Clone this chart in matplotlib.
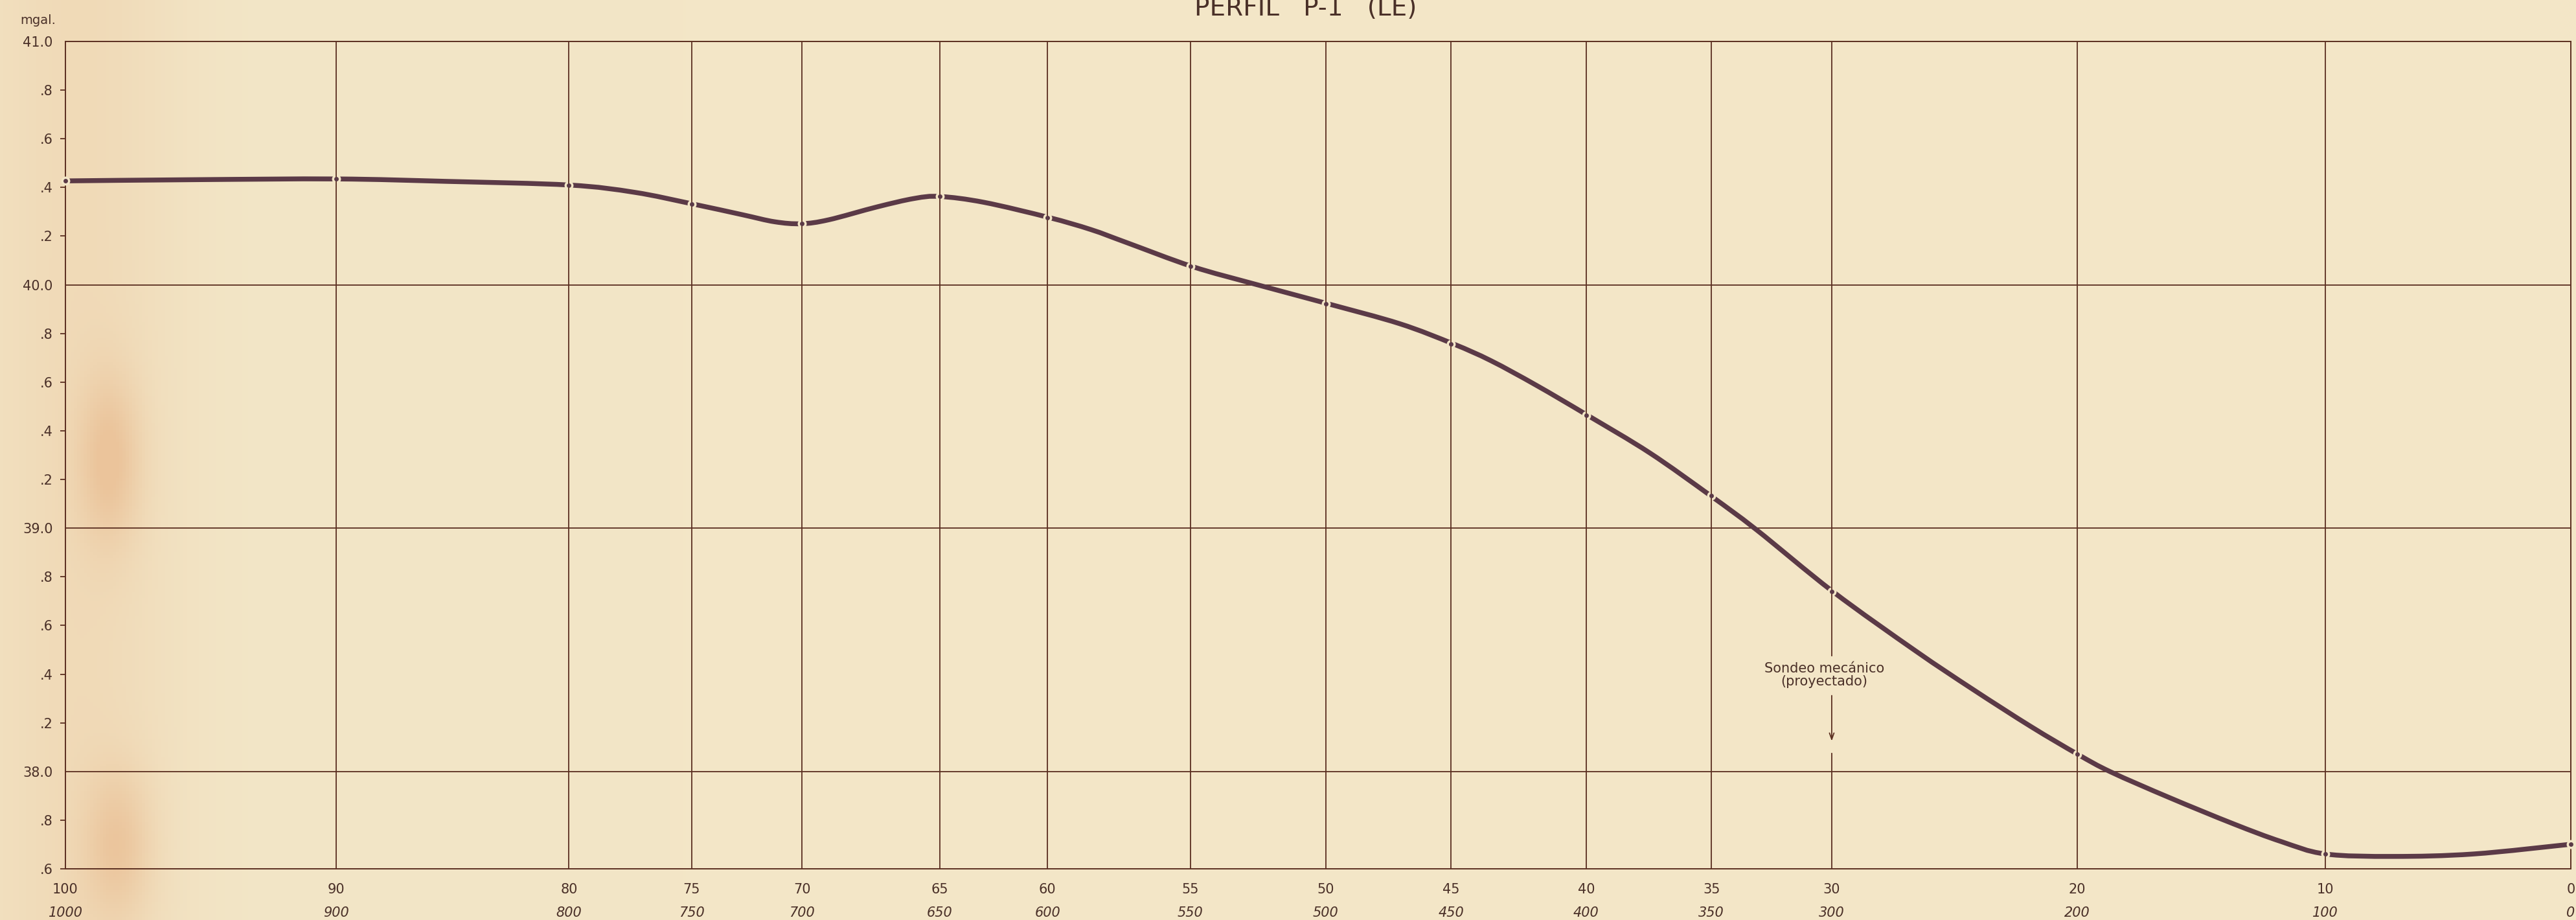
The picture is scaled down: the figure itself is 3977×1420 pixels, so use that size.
"""Perfil gravimétrico P-1 (LE): anomalía en mgal a lo largo de la línea de estaciones."""

import matplotlib

matplotlib.use("Agg")
import matplotlib.pyplot as plt
import numpy as np
from matplotlib.colors import to_rgb
from matplotlib.patches import PathPatch
from matplotlib.path import Path


PAPER_COLOR = "#f3e6c7"
STAIN_COLOR = "#ebc49b"
GRID_COLOR = "#5a2e20"
TEXT_COLOR = "#4a3028"
CURVE_COLOR = "#5b3a47"

# estaciones: número, distancia rotulada y posición dibujada sobre el perfil (m)
STATION_LABELS = ["100", "90", "80", "75", "70", "65", "60", "55", "50",
                  "45", "40", "35", "30", "20", "10", "0"]
DISTANCE_LABELS = ["1000", "900", "800", "750", "700", "650", "600", "550", "500",
                   "450", "400", "350", "300", "200", "100", "0"]
STATION_POSITIONS = [1000, 892, 799, 750, 706, 651, 608, 551, 497,
                     447, 393, 343, 295, 197, 98, 0]
STATION_GRAVITY = [40.427, 40.435, 40.410, 40.333, 40.251, 40.363, 40.277, 40.075,
                   39.923, 39.757, 39.464, 39.133, 38.739, 38.070, 37.661, 37.701]

# puntos leídos sobre la curva dibujada
CURVE_POSITIONS = [1000, 948.6, 891.7, 847.7, 798.9, 772.8, 750.0, 729.8, 716.9,
                   706.3, 695.4, 676.1, 661.1, 651.0, 633.4, 607.6, 590.7, 576.3,
                   550.2, 525.3, 496.4, 467.4, 446.0, 431.0, 412.9, 392.5, 367.6,
                   343.3, 325.0, 294.5, 261.6, 238.6, 215.4, 196.7, 183.6, 160.3,
                   134.7, 115.6, 98.0, 70.8, 38.8, 0.0]
CURVE_GRAVITY = [40.427, 40.432, 40.435, 40.425, 40.410, 40.380, 40.333, 40.288, 40.259,
                 40.251, 40.267, 40.320, 40.355, 40.363, 40.339, 40.277, 40.227, 40.173,
                 40.075, 40.003, 39.923, 39.840, 39.757, 39.688, 39.587, 39.464, 39.309,
                 39.133, 38.993, 38.739, 38.496, 38.337, 38.184, 38.070, 37.998, 37.893,
                 37.785, 37.712, 37.661, 37.651, 37.661, 37.701]

MAJOR_GRAVITY = [41.0, 40.0, 39.0, 38.0]
MAJOR_LABELS = ["41.0", "40.0", "39.0", "38.0"]
MINOR_GRAVITY = [40.8, 40.6, 40.4, 40.2, 39.8, 39.6, 39.4, 39.2,
                 38.8, 38.6, 38.4, 38.2, 37.8, 37.6]
MINOR_LABELS = [".8", ".6", ".4", ".2", ".8", ".6", ".4", ".2",
                ".8", ".6", ".4", ".2", ".8", ".6"]

BOREHOLE_POSITION = 295
BOREHOLE_TEXT = "Sondeo mecánico\n(proyectado)"

FIG_W, FIG_H = 3977, 1420


def smooth_curve_path(x_values, y_values):
    """Trazo con curvas de Bézier que pasa por los puntos leídos (como una plantilla de curvas)."""
    points = np.column_stack([x_values, y_values]).astype(float)
    padded = np.vstack([points[0], points, points[-1]])
    vertices = [points[0]]
    codes = [Path.MOVETO]
    for index in range(1, len(padded) - 2):
        previous_point, start, end, following = padded[index - 1:index + 3]
        vertices += [start + (end - previous_point) / 6.0,
                     end - (following - start) / 6.0,
                     end]
        codes += [Path.CURVE4] * 3
    return Path(vertices, codes)


plt.rcParams["font.family"] = ["DejaVu Sans"]

figure = plt.figure(figsize=(FIG_W / 100, FIG_H / 100), dpi=100)
figure.patch.set_facecolor(PAPER_COLOR)

# papel crema con manchas anaranjadas junto al margen izquierdo
paper = figure.add_axes([0, 0, 1, 1], zorder=-10)
columns = np.linspace(0.0, 1.0, 800)[None, :]
rows = np.linspace(0.0, 1.0, 300)[:, None]
stain = 0.35 * np.exp(-((columns - 0.03) / 0.04) ** 2)
stain = stain + 0.75 * np.exp(-((columns - 0.042) / 0.012) ** 2 - ((rows - 0.5) / 0.09) ** 2)
stain = stain + 0.65 * np.exp(-((columns - 0.045) / 0.013) ** 2 - ((rows - 0.08) / 0.08) ** 2)
stain = np.clip(stain, 0.0, 1.0)
base = np.array(to_rgb(PAPER_COLOR))
texture = base + (np.array(to_rgb(STAIN_COLOR)) - base) * stain[..., None]
paper.imshow(texture, aspect="auto", extent=[0, 1, 0, 1], origin="lower")
paper.set_axis_off()

axis = figure.add_axes([101 / FIG_W, 1 - 1341 / FIG_H, 3868 / FIG_W, 1277 / FIG_H])
axis.set_facecolor("none")
axis.set_xlim(1000, 0)
axis.set_ylim(37.6, 41.0)

for spine in axis.spines.values():
    spine.set_color(GRID_COLOR)
    spine.set_linewidth(1.4)

for position in STATION_POSITIONS[1:-1]:
    if position == BOREHOLE_POSITION:
        continue
    axis.axvline(position, color=GRID_COLOR, linewidth=1.3, zorder=4)
for value in MAJOR_GRAVITY[1:]:
    axis.axhline(value, color=GRID_COLOR, linewidth=1.3, zorder=1)

# la vertical del sondeo se interrumpe en el rótulo
axis.plot([BOREHOLE_POSITION, BOREHOLE_POSITION], [41.0, 38.475],
          color=GRID_COLOR, linewidth=1.3, zorder=4)
axis.plot([BOREHOLE_POSITION, BOREHOLE_POSITION], [38.075, 37.6],
          color=GRID_COLOR, linewidth=1.3, zorder=4)
axis.annotate(
    "",
    xy=(BOREHOLE_POSITION, 38.125),
    xytext=(BOREHOLE_POSITION, 38.312),
    arrowprops=dict(arrowstyle="->,head_length=0.7,head_width=0.25",
                    color=GRID_COLOR, linewidth=1.3, shrinkA=0, shrinkB=0),
    zorder=4,
)
axis.text(298, 38.395, BOREHOLE_TEXT, ha="center", va="center",
          fontsize=15, color=TEXT_COLOR, linespacing=1.0, zorder=5)

curve = PathPatch(smooth_curve_path(CURVE_POSITIONS, CURVE_GRAVITY), fill=False,
                  edgecolor=CURVE_COLOR, linewidth=5.4, capstyle="round",
                  joinstyle="round", zorder=2)
axis.add_patch(curve)
axis.plot(STATION_POSITIONS, STATION_GRAVITY, linestyle="none", marker="o",
          markersize=10, markerfacecolor=PAPER_COLOR, markeredgewidth=0,
          zorder=3, clip_on=False)
axis.plot(STATION_POSITIONS, STATION_GRAVITY, linestyle="none", marker="o",
          markersize=5, markerfacecolor=CURVE_COLOR, markeredgewidth=0,
          zorder=5, clip_on=False)

axis.set_yticks(MAJOR_GRAVITY, MAJOR_LABELS)
axis.set_yticks(MINOR_GRAVITY, MINOR_LABELS, minor=True)
axis.tick_params(axis="y", which="major", length=0, pad=14,
                 labelsize=15, labelcolor=TEXT_COLOR)
axis.tick_params(axis="y", which="minor", length=6, width=1.3, pad=8,
                 color=GRID_COLOR, labelsize=15, labelcolor=TEXT_COLOR)

axis.set_xticks(STATION_POSITIONS, STATION_LABELS)
axis.tick_params(axis="x", length=0, pad=16, labelsize=15, labelcolor=TEXT_COLOR)

distance_axis = axis.secondary_xaxis("bottom")
distance_axis.set_xticks(STATION_POSITIONS, DISTANCE_LABELS)
distance_axis.tick_params(axis="x", length=0, pad=42, labelsize=15,
                          labelcolor=TEXT_COLOR)
distance_axis.spines["bottom"].set_visible(False)
for label in distance_axis.get_xticklabels():
    label.set_fontstyle("italic")

figure.text(59 / FIG_W, 1 - 37 / FIG_H, "mgal.", ha="center", va="baseline",
            fontsize=14, color=TEXT_COLOR)
figure.text(2016 / FIG_W, 1 - 24 / FIG_H, "PERFIL   P-1   (LE)", ha="center",
            va="baseline", fontsize=28, color=TEXT_COLOR)

figure.savefig("out.png", dpi=100, facecolor=figure.get_facecolor())
plt.close(figure)
